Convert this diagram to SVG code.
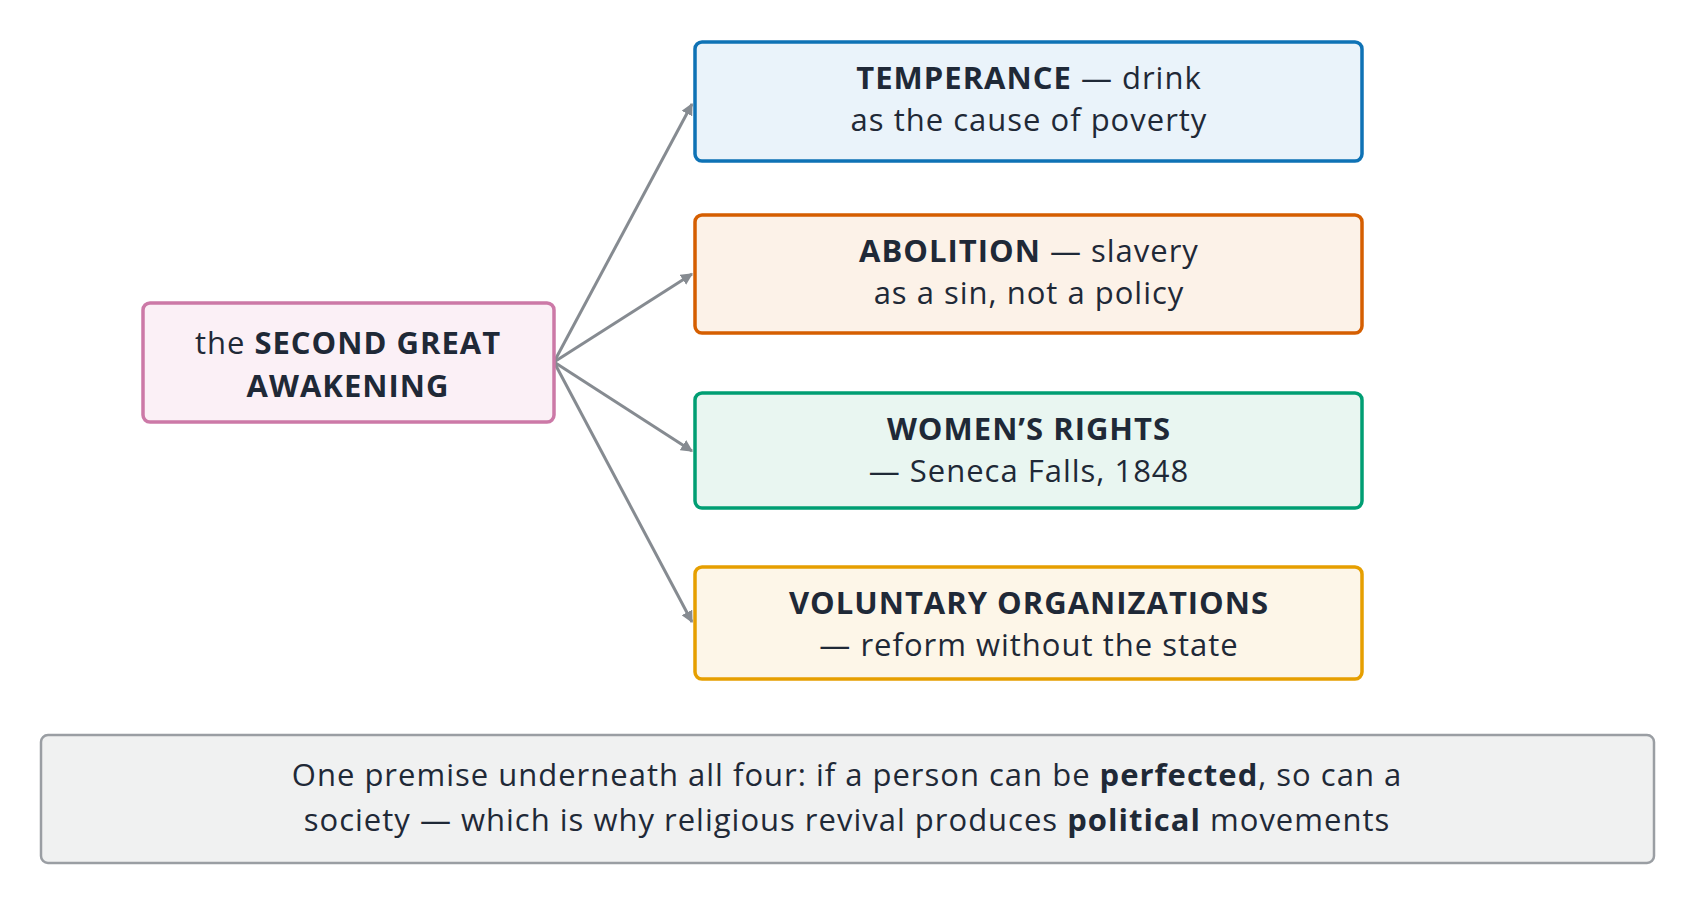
<svg xmlns="http://www.w3.org/2000/svg" width="1696" height="905" viewBox="0 0 1696 905">
<style>
text{font-family:"Open Sans","Noto Sans",sans-serif;fill:#1f2937;text-anchor:middle;font-size:31px;letter-spacing:1px}
.b{font-weight:bold}
.c{stroke:#868b91;stroke-width:3;fill:none}
rect{stroke-width:3.5}
</style>
<defs><marker id="a" viewBox="0 0 10 10" refX="9" refY="5" markerWidth="4" markerHeight="4" orient="auto"><path d="M0,0L10,5L0,10z" fill="#868b91"/></marker></defs>
<rect width="1696" height="905" fill="#fff" style="stroke:none"/>
<g id="connectors">
<line class="c" x1="554" y1="362" x2="692" y2="104" marker-end="url(#a)"/>
<line class="c" x1="554" y1="362" x2="692" y2="274" marker-end="url(#a)"/>
<line class="c" x1="554" y1="362" x2="692" y2="451" marker-end="url(#a)"/>
<line class="c" x1="554" y1="362" x2="692" y2="622" marker-end="url(#a)"/>
</g>
<g id="awakening"><rect x="143" y="303" width="411" height="119" rx="7" fill="#fbf0f6" stroke="#cc79a7"/>
<text x="348" y="354">the <tspan class="b">SECOND GREAT</tspan></text><text x="348" y="397" class="b">AWAKENING</text></g>
<g id="temperance"><rect x="695" y="42" width="667" height="119" rx="7" fill="#eaf3fa" stroke="#0e72b5"/>
<text x="1029" y="89"><tspan class="b">TEMPERANCE</tspan> — drink</text><text x="1029" y="131">as the cause of poverty</text></g>
<g id="abolition"><rect x="695" y="215" width="667" height="118" rx="7" fill="#fcf2e8" stroke="#d55e00"/>
<text x="1029" y="262"><tspan class="b">ABOLITION</tspan> — slavery</text><text x="1029" y="304">as a sin, not a policy</text></g>
<g id="womens"><rect x="695" y="393" width="667" height="115" rx="7" fill="#e9f6f1" stroke="#009e73"/>
<text x="1029" y="440" class="b">WOMEN’S RIGHTS</text><text x="1029" y="482">— Seneca Falls, 1848</text></g>
<g id="voluntary"><rect x="695" y="567" width="667" height="112" rx="7" fill="#fdf6e8" stroke="#e69f00"/>
<text x="1029" y="614" class="b">VOLUNTARY ORGANIZATIONS</text><text x="1029" y="656">— reform without the state</text></g>
<g id="premise"><rect x="41" y="735" width="1613" height="128" rx="7" fill="#f0f1f1" stroke="#9a9ea3" style="stroke-width:2.5"/>
<text x="847" y="786">One premise underneath all four: if a person can be <tspan class="b">perfected</tspan>, so can a</text>
<text x="847" y="831">society — which is why religious revival produces <tspan class="b">political</tspan> movements</text></g>
</svg>
